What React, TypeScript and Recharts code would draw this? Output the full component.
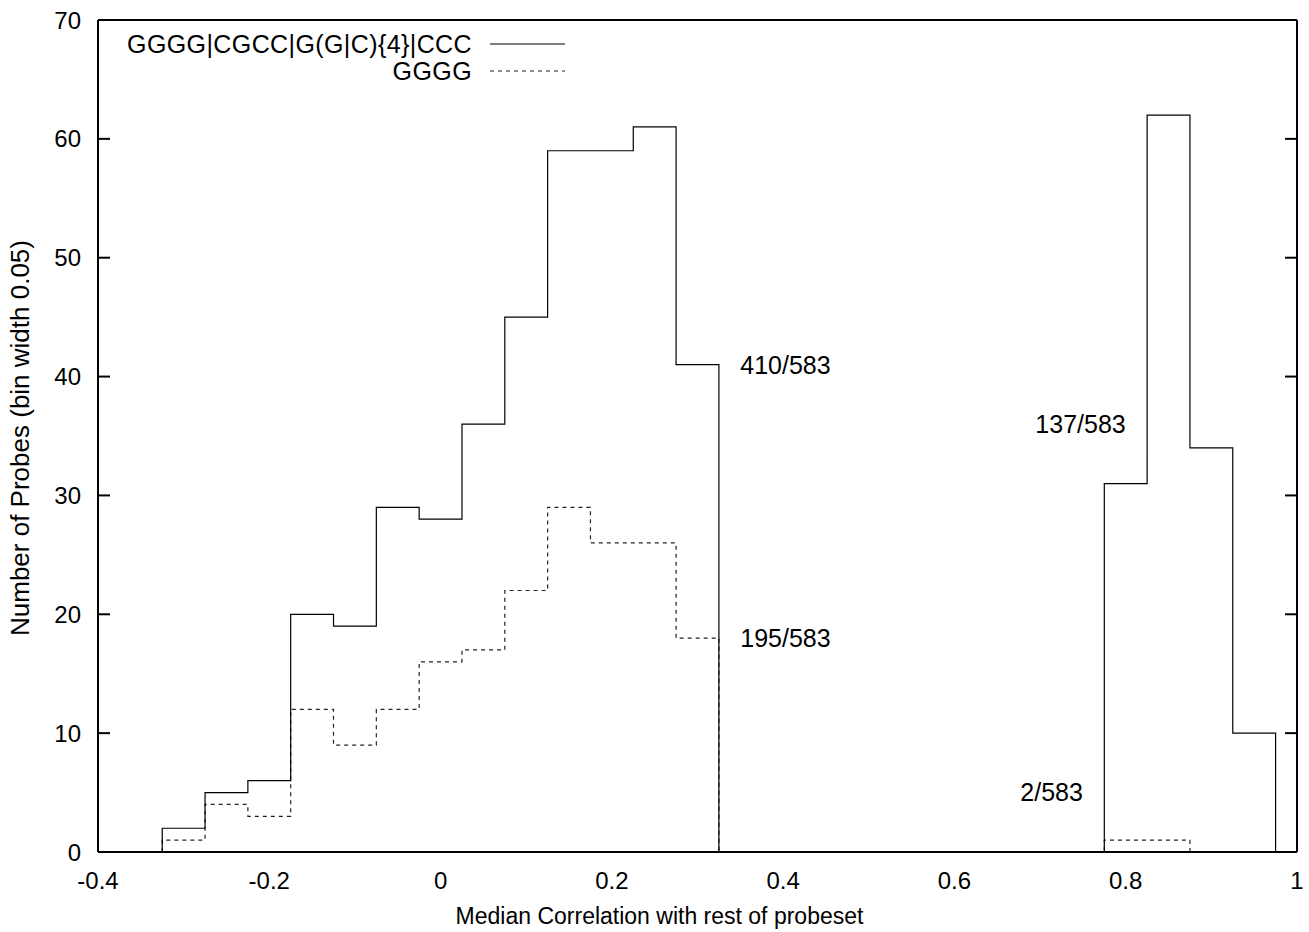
import React from 'react';
import { LineChart, Line, XAxis, YAxis, ReferenceDot } from 'recharts';

// ---- data ----
const BIN_WIDTH = 0.05;

const lowBinCenters = [-0.3, -0.25, -0.2, -0.15, -0.1, -0.05, 0, 0.05, 0.1, 0.15, 0.2, 0.25, 0.3];
const lowMotifCounts = [2, 5, 6, 20, 19, 29, 28, 36, 45, 59, 59, 61, 41];
const lowGGGGCounts = [1, 4, 3, 12, 9, 12, 16, 17, 22, 29, 26, 26, 18];

const highBinCenters = [0.8, 0.85, 0.9, 0.95];
const highMotifCounts = [31, 62, 34, 10];
const highGGGGCenters = [0.8, 0.85];
const highGGGGCounts = [1, 1];

const xTicks = [-0.4, -0.2, 0, 0.2, 0.4, 0.6, 0.8, 1];
const yTicks = [0, 10, 20, 30, 40, 50, 60, 70];

const seriesNames = ['GGGG|CGCC|G(G|C){4}|CCC', 'GGGG'];

const annotations = [
  { text: '410/583', x: 0.35, y: 41, side: 'right' },
  { text: '195/583', x: 0.35, y: 18, side: 'right' },
  { text: '137/583', x: 0.8, y: 36, side: 'left' },
  { text: '2/583', x: 0.75, y: 5, side: 'left' },
];

const xLabel = 'Median Correlation with rest of probeset';
const yLabel = 'Number of Probes (bin width 0.05)';

// ---- build gnuplot "histeps"-like step outlines ----
type Group = { centers: number[]; counts: number[] };
function histeps(groups: Group[]) {
  const h = BIN_WIDTH / 2;
  const pts: { x: number; y: number }[] = [];
  groups.forEach((g) => {
    pts.push({ x: g.centers[0] - h, y: 0 });
    g.centers.forEach((c, i) => pts.push({ x: c - h, y: g.counts[i] }));
    pts.push({ x: g.centers[g.centers.length - 1] + h, y: 0 });
  });
  return pts;
}

const motifSteps = histeps([
  { centers: lowBinCenters, counts: lowMotifCounts },
  { centers: highBinCenters, counts: highMotifCounts },
]);
const ggggSteps = histeps([
  { centers: lowBinCenters, counts: lowGGGGCounts },
  { centers: highGGGGCenters, counts: highGGGGCounts },
]);

const FONT = '"Liberation Sans", Arial, Helvetica, sans-serif';
const W = 1309;
const H = 932;
const xDomain: [number, number] = [-0.4, 1];
const yDomain: [number, number] = [0, 70];
const axisStroke = { stroke: '#000', strokeWidth: 2 };
const fmtX = (v: number) => (v === 0 ? '0' : String(Math.round(v * 10) / 10));
const noLabel = () => '';
const hiddenTick = { fill: 'none', fontSize: 1 };

const legendStyles = [
  { stroke: '#000', dash: undefined as string | undefined },
  { stroke: '#222', dash: '4 4' },
];

export default function App() {
  return (
    <div style={{ position: 'absolute', left: 0, top: 0, width: W, height: H, background: '#fff', fontFamily: FONT }}>
      <LineChart width={W} height={H} margin={{ top: 20, right: 12, bottom: 50, left: 58 }}>
        {/* bottom axis with labels */}
        <XAxis
          xAxisId="b"
          dataKey="x"
          type="number"
          domain={xDomain}
          ticks={xTicks}
          allowDataOverflow
          height={30}
          tickLine={false}
          tickSize={0}
          tickMargin={20}
          axisLine={axisStroke}
          tick={{ fill: '#000', fontSize: 24, fontFamily: FONT }}
          tickFormatter={fmtX}
          label={{ value: xLabel, position: 'bottom', offset: 26, dx: -38, fill: '#000', fontSize: 23, fontFamily: FONT }}
        />
        {/* inward tick marks bottom */}
        <XAxis
          xAxisId="bt"
          type="number"
          orientation="bottom"
          mirror
          domain={xDomain}
          ticks={xTicks}
          allowDataOverflow
          height={1}
          tick={hiddenTick}
          tickFormatter={noLabel}
          tickSize={12}
          tickLine={axisStroke}
          axisLine={false}
        />
        {/* top border with inward ticks */}
        <XAxis
          xAxisId="t"
          type="number"
          orientation="top"
          mirror
          domain={xDomain}
          ticks={xTicks}
          allowDataOverflow
          height={1}
          tick={hiddenTick}
          tickFormatter={noLabel}
          tickSize={12}
          tickLine={axisStroke}
          axisLine={axisStroke}
        />
        {/* left axis with labels */}
        <YAxis
          yAxisId="l"
          type="number"
          domain={yDomain}
          ticks={yTicks}
          allowDataOverflow
          width={40}
          tickLine={false}
          tickSize={0}
          tickMargin={17}
          axisLine={axisStroke}
          tick={{ fill: '#000', fontSize: 24, fontFamily: FONT }}
          label={{ value: yLabel, angle: -90, position: 'center', dx: -58, dy: 2, fill: '#000', fontSize: 26, fontFamily: FONT }}
        />
        {/* inward ticks left */}
        <YAxis
          yAxisId="lt"
          type="number"
          orientation="left"
          mirror
          domain={yDomain}
          ticks={yTicks}
          allowDataOverflow
          width={1}
          tick={hiddenTick}
          tickFormatter={noLabel}
          tickSize={12}
          tickLine={axisStroke}
          axisLine={false}
        />
        {/* right border with inward ticks */}
        <YAxis
          yAxisId="r"
          type="number"
          orientation="right"
          mirror
          domain={yDomain}
          ticks={yTicks}
          allowDataOverflow
          width={1}
          tick={hiddenTick}
          tickFormatter={noLabel}
          tickSize={12}
          tickLine={axisStroke}
          axisLine={axisStroke}
        />
        <Line
          xAxisId="b"
          yAxisId="l"
          data={ggggSteps}
          dataKey="y"
          name={seriesNames[1]}
          type="stepAfter"
          stroke={legendStyles[1].stroke}
          strokeWidth={1.2}
          strokeDasharray={legendStyles[1].dash}
          dot={false}
          activeDot={false}
          isAnimationActive={false}
        />
        <Line
          xAxisId="b"
          yAxisId="l"
          data={motifSteps}
          dataKey="y"
          name={seriesNames[0]}
          type="stepAfter"
          stroke={legendStyles[0].stroke}
          strokeWidth={1.2}
          dot={false}
          activeDot={false}
          isAnimationActive={false}
        />
        {annotations.map((a) => (
          <ReferenceDot
            key={a.text}
            xAxisId="b"
            yAxisId="l"
            x={a.x}
            y={a.y}
            r={0}
            fill="none"
            stroke="none"
            label={{ value: a.text, position: a.side as any, offset: 0, fill: '#000', fontSize: 25, fontFamily: FONT }}
          />
        ))}
      </LineChart>
      {/* key box (gnuplot style, top-left inside plot) */}
      <svg width={W} height={H} style={{ position: 'absolute', left: 0, top: 0, pointerEvents: 'none' }}>
        {seriesNames.map((name, i) => (
          <g key={name}>
            <text
              x={472}
              y={44 + i * 27}
              textAnchor="end"
              dominantBaseline="central"
              fontSize={25}
              letterSpacing={0.4}
              fontFamily={FONT}
              fill="#000"
            >
              {name}
            </text>
            <line x1={490} x2={565} y1={44 + i * 27} y2={44 + i * 27} stroke={legendStyles[i].stroke} strokeWidth={1.2} strokeDasharray={legendStyles[i].dash} />
          </g>
        ))}
      </svg>
    </div>
  );
}
